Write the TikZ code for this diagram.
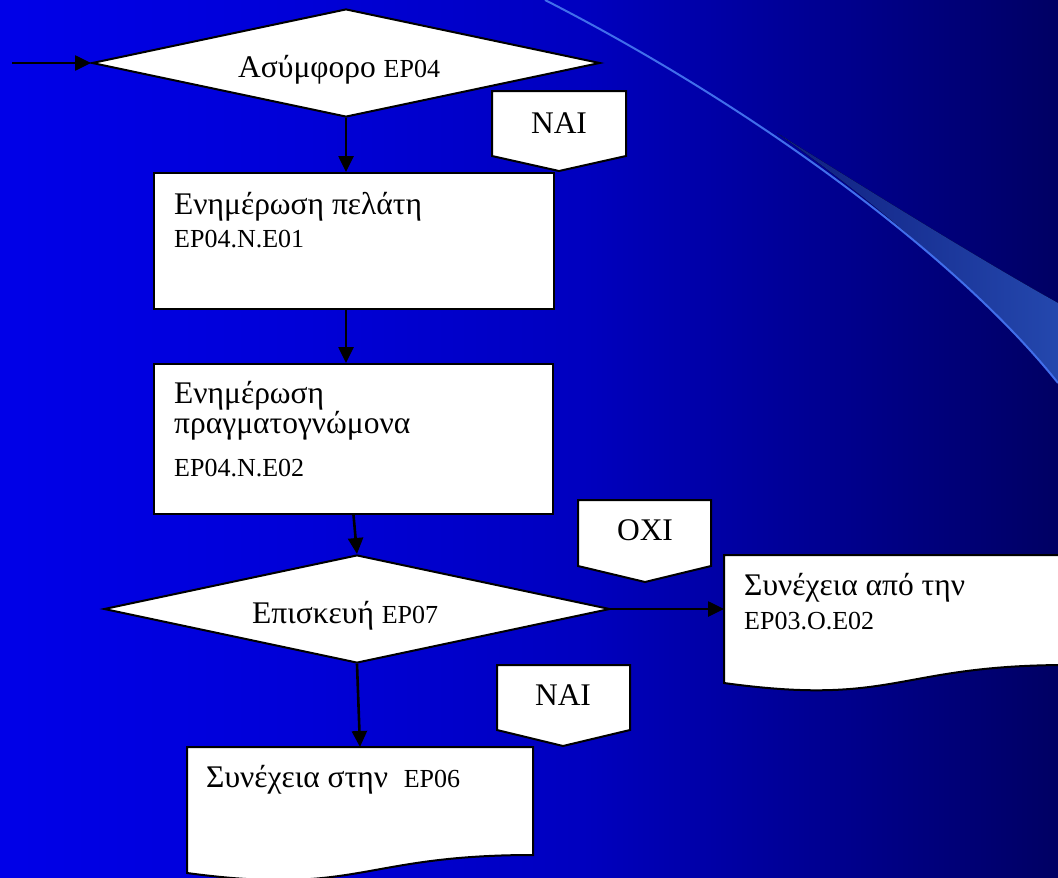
\documentclass[tikz,border=0pt]{standalone}
\usepackage{fontspec}
\setmainfont{Liberation Serif}
\usetikzlibrary{shapes.geometric,arrows.meta,calc}
\newcommand\bigf{\fontsize{31.5pt}{34pt}\selectfont}
\newcommand\smf{\fontsize{26pt}{30pt}\selectfont}
\definecolor{swline}{RGB}{65,110,235}
\pgfdeclarehorizontalshading{bgshade}{100bp}{rgb(0bp)=(0,0,0.91); rgb(25bp)=(0,0,0.91); rgb(40bp)=(0,0,0.84); rgb(52.5bp)=(0,0,0.75); rgb(65bp)=(0,0,0.55); rgb(75bp)=(0,0,0.39); rgb(100bp)=(0,0,0.39)}
\pgfdeclarehorizontalshading{bandshade}{100bp}{rgb(0bp)=(0.06,0.12,0.5); rgb(25bp)=(0.06,0.12,0.5); rgb(75bp)=(0.14,0.28,0.68); rgb(100bp)=(0.14,0.28,0.68)}
\tikzset{
  shapeline/.style={draw=black, line width=2pt, fill=white},
  conn/.style={draw=black, line width=2.6pt, -{Triangle[length=16pt,width=15pt]}},
  decision/.style={shape=diamond, shapeline, inner sep=0pt, minimum width=#1, minimum height=108pt},
  procbox/.style={shape=rectangle, shapeline, inner sep=0pt},
  docframe/.style={shape=rectangle, inner sep=0pt, outer sep=0pt},
  txt/.style={anchor=base west, inner sep=0pt, text=black},
  lbl/.style={anchor=base, inner sep=0pt, text=black, font=\bigf},
}
\begin{document}
\begin{tikzpicture}[x=1pt,y=-1pt]
\useasboundingbox (0,0) rectangle (1058,878);
\shade[shading=bgshade] (0,0) rectangle (1058,878);
% swoosh
\fill[shading=bandshade] (777,133) .. controls (900,210) and (990,265) .. (1058,303) -- (1058,383) .. controls (985,296) and (880,205) .. (777,133) -- cycle;
\draw[swline, line width=2pt] (545,0) .. controls (760,110) and (960,260) .. (1058,383);

% decision 1
\coordinate (start) at (12,63);
\node[decision=508pt] (d1) at (346,63) {};
\node[txt] (t1) at (238,77) {\bigf Ασύμφορο \smf EP04};

% NAI 1
\draw[shapeline] (492,91) -- (626,91) -- (626,156) -- (559,171) -- (492,156) -- cycle;
\node[lbl] (nai1) at (559,133) {NAI};

% box 1
\node[procbox, minimum width=400pt, minimum height=136pt] (b1) at (354,241) {};
\node[txt] (t2a) at (174,214) {\bigf Ενημέρωση πελάτη};
\node[txt] (t2b) at (174,247) {\smf EP04.N.E01};

% box 2
\node[procbox, minimum width=399pt, minimum height=150pt] (b2) at (353.5,439) {};
\node[txt] (t3a) at (174,403) {\bigf Ενημέρωση};
\node[txt] (t3b) at (174,433) {\bigf πραγματογνώμονα};
\node[txt] (t3c) at (174,476) {\smf EP04.N.E02};

% OXI
\draw[shapeline] (578,500) -- (711,500) -- (711,566) -- (645,582) -- (578,566) -- cycle;
\node[lbl] (oxi) at (645,540) {OXI};

% decision 2
\node[decision=506pt] (d2) at (357,609) {};
\node[txt] (t4) at (252,623) {\bigf Επισκευή \smf EP07};

% right document box
\node[docframe, minimum width=344pt, minimum height=110pt] (b4) at (896,610) {};
\draw[shapeline] (b4.north west) -- (b4.north east) -- (b4.south east)
  .. controls (b4.south) and ($(b4.south)+(0,41.7)$) .. ($(b4.south west)+(0,18)$) -- cycle;
\node[txt] (t5a) at (744,595) {\bigf Συνέχεια από την};
\node[txt] (t5b) at (744,629) {\smf EP03.O.E02};

% NAI 2
\draw[shapeline] (497,665) -- (630,665) -- (630,730) -- (563,746) -- (497,730) -- cycle;
\node[lbl] (nai2) at (563,705) {NAI};

% bottom document box
\node[docframe, minimum width=346pt, minimum height=108pt] (b3) at (360,801) {};
\draw[shapeline] (b3.north west) -- (b3.north east) -- (b3.south east)
  .. controls (b3.south) and ($(b3.south)+(0,41.2)$) .. ($(b3.south west)+(0,18)$) -- cycle;
\node[txt] (t6) at (206,787) {\bigf Συνέχεια στην\ \ \smf EP06};

% connectors
\draw[conn] (start) -- (d1.west);
\draw[conn] (d1.south) -- (b1.north -| d1.south);
\draw[conn] (b1.south -| d1.south) -- (b2.north -| d1.south);
\draw[conn] (b2.south) -- (d2.north);
\draw[conn] (d2.south) -- (b3.north);
\draw[conn] (d2.east) -- (d2.east -| b4.west);
\end{tikzpicture}
\end{document}
